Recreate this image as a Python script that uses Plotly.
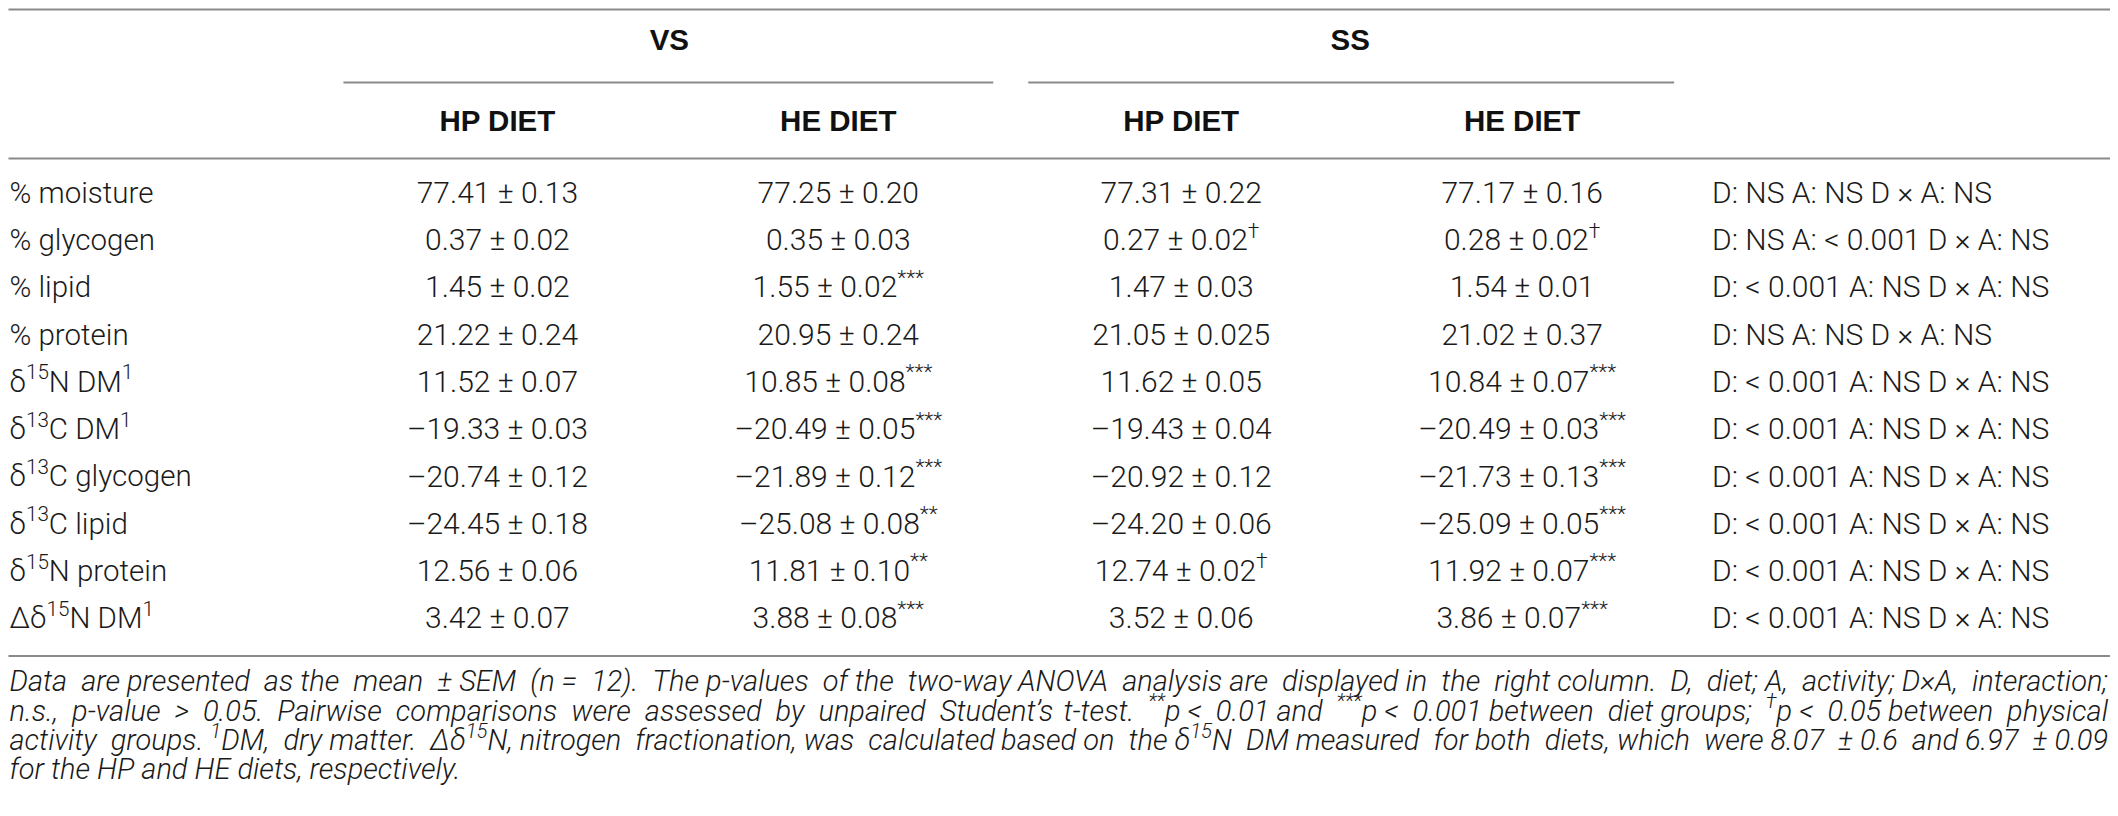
import plotly.graph_objects as go

"""Table of muscle composition and isotope values, drawn as a plotly figure."""

# ---- table content ----
row_labels = [
    "% moisture",
    "% glycogen",
    "% lipid",
    "% protein",
    "δ<sup>15</sup>N DM<sup>1</sup>",
    "δ<sup>13</sup>C DM<sup>1</sup>",
    "δ<sup>13</sup>C glycogen",
    "δ<sup>13</sup>C lipid",
    "δ<sup>15</sup>N protein",
    "Δδ<sup>15</sup>N DM<sup>1</sup>",
]

vs_hp_mean = ["77.41", "0.37", "1.45", "21.22", "11.52", "–19.33", "–20.74", "–24.45", "12.56", "3.42"]
vs_hp_sem = ["0.13", "0.02", "0.02", "0.24", "0.07", "0.03", "0.12", "0.18", "0.06", "0.07"]
vs_hp_sig = ["", "", "", "", "", "", "", "", "", ""]

vs_he_mean = ["77.25", "0.35", "1.55", "20.95", "10.85", "–20.49", "–21.89", "–25.08", "11.81", "3.88"]
vs_he_sem = ["0.20", "0.03", "0.02", "0.24", "0.08", "0.05", "0.12", "0.08", "0.10", "0.08"]
vs_he_sig = ["", "", "***", "", "***", "***", "***", "**", "**", "***"]

ss_hp_mean = ["77.31", "0.27", "1.47", "21.05", "11.62", "–19.43", "–20.92", "–24.20", "12.74", "3.52"]
ss_hp_sem = ["0.22", "0.02", "0.03", "0.025", "0.05", "0.04", "0.12", "0.06", "0.02", "0.06"]
ss_hp_sig = ["", "†", "", "", "", "", "", "", "†", ""]

ss_he_mean = ["77.17", "0.28", "1.54", "21.02", "10.84", "–20.49", "–21.73", "–25.09", "11.92", "3.86"]
ss_he_sem = ["0.16", "0.02", "0.01", "0.37", "0.07", "0.03", "0.13", "0.05", "0.07", "0.07"]
ss_he_sig = ["", "†", "", "", "***", "***", "***", "***", "***", "***"]

anova_d = ["NS", "NS", "< 0.001", "NS", "< 0.001", "< 0.001", "< 0.001", "< 0.001", "< 0.001", "< 0.001"]
anova_a = ["NS", "< 0.001", "NS", "NS", "NS", "NS", "NS", "NS", "NS", "NS"]
anova_dxa = ["NS", "NS", "NS", "NS", "NS", "NS", "NS", "NS", "NS", "NS"]

group_labels = ["VS", "SS"]
diet_labels = ["HP DIET", "HE DIET", "HP DIET", "HE DIET"]

footnote_lines = [
    "Data are presented as the mean ± SEM (n = 12). The p-values of the two-way ANOVA analysis are displayed "
    "in the right column. D, diet; A, activity; D×A, interaction;",
    "n.s., p-value > 0.05. Pairwise comparisons were assessed by unpaired Student’s t-test. <sup>**</sup>p < 0.01 "
    "and <sup>***</sup>p < 0.001 between diet groups; <sup>†</sup>p < 0.05 between physical",
    "activity groups. <sup>1</sup>DM, dry matter. Δδ<sup>15</sup>N, nitrogen fractionation, was calculated based "
    "on the δ<sup>15</sup>N DM measured for both diets, which were 8.07 ± 0.6 and 6.97 ± 0.09",
    "for the HP and HE diets, respectively.",
]

# ---- layout (pixels of the page) ----
W, H = 2118, 816
OFF = 8  # default body margin of the html page
FONT = "Roboto, Liberation Sans, Arial, sans-serif"
HEAD_FONT = "Liberation Sans, Arial, sans-serif"
TXT = "#1a1a1a"
RULE = "#8a8a8a"
LABEL_SIZE = 29.5
BODY = 30
NOTE = 29
# the caption is justified: each full line is cut in two at this word, the
# left part hangs from the left margin and the right part from the right one
note_split = ["ANOVA", "t-test.", "based", None]
note_stretch = [(9, 8), (10, 8), (5, 8), (0, 0)]  # extra no-break spaces per part
note_left, note_right = 9, 2108

label_x = 9
col_x = [497, 838, 1181, 1522]
anova_x = 1712
group_x = [669, 1350]
group_span = [(343, 993), (1028, 1674)]
group_y = 42
sub_rule_y = 82
diet_y = 123
head_rule_y = 158
top_rule_y = 9
rule_x = (8, 2112)
row_y0, row_step = 195, 47.3
bottom_rule_y = 656
note_y0, note_step = 684, 29.2


def cell(mean, sem, sig):
    txt = f"{mean} ± {sem}"
    if sig:
        txt += f"<sup>{sig}</sup>"
    return txt


def stretch(text, n_extra):
    """Spread n_extra no-break spaces evenly over the word gaps of a text."""
    parts = text.split(" ")
    gaps = len(parts) - 1
    if n_extra <= 0 or gaps <= 0:
        return text
    out = parts[0]
    given = 0
    for i, word in enumerate(parts[1:], start=1):
        want = round(i * n_extra / gaps)
        out += " " + "\u00a0" * (want - given) + word
        given = want
    return out


row_y = [row_y0 + i * row_step for i in range(len(row_labels))]
body_font = dict(family=FONT, size=BODY, color=TXT, weight=300)

fig = go.Figure()

# row labels
fig.add_trace(
    go.Scatter(
        x=[label_x] * len(row_labels),
        y=row_y,
        text=row_labels,
        mode="text",
        textposition="middle right",
        textfont=dict(body_font, size=LABEL_SIZE),
        cliponaxis=False,
    )
)

# value columns
columns = [
    (vs_hp_mean, vs_hp_sem, vs_hp_sig),
    (vs_he_mean, vs_he_sem, vs_he_sig),
    (ss_hp_mean, ss_hp_sem, ss_hp_sig),
    (ss_he_mean, ss_he_sem, ss_he_sig),
]
for cx, (means, sems, sigs) in zip(col_x, columns):
    fig.add_trace(
        go.Scatter(
            x=[cx] * len(means),
            y=row_y,
            text=[cell(m, s, g) for m, s, g in zip(means, sems, sigs)],
            mode="text",
            textposition="middle center",
            textfont=body_font,
            cliponaxis=False,
        )
    )

# two-way ANOVA column
fig.add_trace(
    go.Scatter(
        x=[anova_x] * len(anova_d),
        y=row_y,
        text=[f"D: {d} A: {a} D × A: {x}" for d, a, x in zip(anova_d, anova_a, anova_dxa)],
        mode="text",
        textposition="middle right",
        textfont=body_font,
        cliponaxis=False,
    )
)

# header text
head_font = dict(family=HEAD_FONT, size=LABEL_SIZE, color="#111111")
fig.add_trace(
    go.Scatter(
        x=group_x,
        y=[group_y] * len(group_x),
        text=[f"<b>{g}</b>" for g in group_labels],
        mode="text",
        textposition="middle center",
        textfont=head_font,
        cliponaxis=False,
    )
)
fig.add_trace(
    go.Scatter(
        x=col_x,
        y=[diet_y] * len(col_x),
        text=[f"<b>{d}</b>" for d in diet_labels],
        mode="text",
        textposition="middle center",
        textfont=head_font,
        cliponaxis=False,
    )
)

# footnote
note_font = dict(family=FONT, size=NOTE, color=TXT, weight=300, style="italic")
left_txt, left_y, right_txt, right_y = [], [], [], []
for i, (line, word, (n_l, n_r)) in enumerate(zip(footnote_lines, note_split, note_stretch)):
    y = note_y0 + i * note_step
    if word is None:
        left_txt.append(line)
        left_y.append(y)
        continue
    cut = line.index(" " + word + " ")
    left_txt.append(stretch(line[:cut], n_l))
    left_y.append(y)
    right_txt.append(stretch(line[cut + 1:], n_r))
    right_y.append(y)

fig.add_trace(
    go.Scatter(
        x=[note_left] * len(left_txt),
        y=left_y,
        text=left_txt,
        mode="text",
        textposition="middle right",
        textfont=note_font,
        cliponaxis=False,
    )
)
fig.add_trace(
    go.Scatter(
        x=[note_right] * len(right_txt),
        y=right_y,
        text=right_txt,
        mode="text",
        textposition="middle left",
        textfont=note_font,
        cliponaxis=False,
    )
)

# rules
rule = dict(type="line", xref="x", yref="y", line=dict(color=RULE, width=2))
for y in (top_rule_y, head_rule_y, bottom_rule_y):
    fig.add_shape(x0=rule_x[0], x1=rule_x[1], y0=y, y1=y, **rule)
for x0, x1 in group_span:
    fig.add_shape(x0=x0, x1=x1, y0=sub_rule_y, y1=sub_rule_y, **rule)

# the page puts the figure OFF pixels in from the top left corner, so the axes
# start at OFF to keep page pixels and axis units the same
axis_kwargs = dict(visible=False, showgrid=False, zeroline=False, fixedrange=True)
fig.update_layout(
    width=W - OFF,
    height=H - OFF,
    margin=dict(l=0, r=0, t=0, b=0, pad=0),
    paper_bgcolor="white",
    plot_bgcolor="white",
    showlegend=False,
    hovermode=False,
    xaxis=dict(range=[OFF - 0.5, W], **axis_kwargs),
    yaxis=dict(range=[H, OFF - 0.5], **axis_kwargs),
)

fig.write_html("out.html", config={"displayModeBar": False})
